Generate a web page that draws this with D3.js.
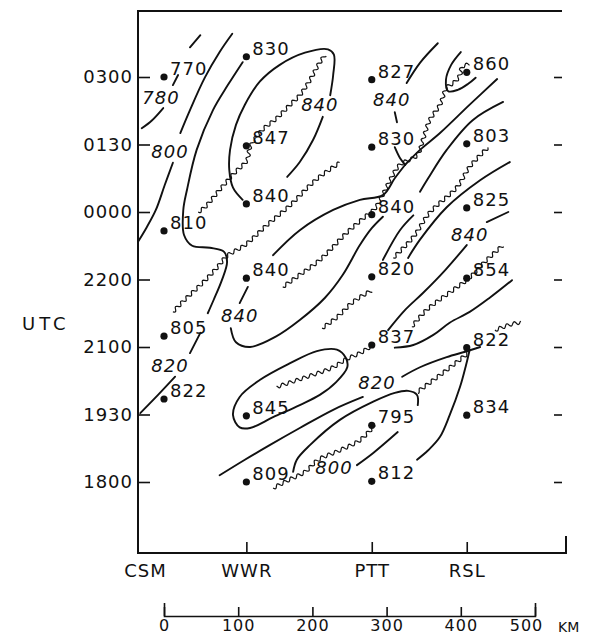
<!DOCTYPE html>
<html>
<head>
<meta charset="utf-8">
<script src="https://cdn.jsdelivr.net/npm/d3@7"></script>
<style>
  body { margin: 0; background: #fff; }
  text { font-family: "DejaVu Sans", sans-serif; fill: #111; }
</style>
</head>
<body>
<svg id="chart" width="593" height="638"></svg>
<script>
// sounding times, drawn at equal spacing (row index 0..6)
const times = ['1800', '1930', '2100', '2200', '0000', '0130', '0300'];
const stationNames = ['CSM', 'WWR', 'PTT', 'RSL'];
const stationKm = [0, 111, 280, 408];
const scaleKm = [0, 100, 200, 300, 400, 500];

// observations per station: [row (launch time), value]
const csmObs = [[6.00, 770], [3.72, 810], [2.16, 805], [1.23, 822]];
const wwrObs = [[6.30, 830], [4.98, 847], [4.12, 840], [3.02, 840], [0.98, 845], [0.00, 809]];
const pttObs = [[5.96, 827], [4.96, 830], [3.96, 840], [3.04, 820], [2.03, 837], [0.84, 795], [0.01, 812]];
const rslObs = [[6.07, 860], [5.01, 803], [4.06, 825], [3.02, 854], [1.99, 822], [0.99, 834]];

// analysed isolines, [km, row]
const c770a = [[12, 5.88], [19, 6.03]];
const c770b = [[35, 6.44], [49, 6.62]];
const c780 = [[-30, 5.24], [-16, 5.36], [-1, 5.54]];
const c800a = [[22, 5.17], [35, 5.51], [55, 5.99], [75, 6.37], [92, 6.64]];
const c800b = [[12, 4.73], [1, 4.40], [-11, 4.03], [-24, 3.76], [-35, 3.56]];
const c820a = [[106, 6.22], [86, 5.88], [66, 5.51], [44, 4.92], [31, 4.33], [26, 4.03], [27, 3.66], [38, 3.50], [62, 3.47], [81, 3.41], [85, 3.26], [78, 2.99], [67, 2.70], [59, 2.50]];
const c820b = [[49, 2.21], [35, 1.91]];
const c820c = [[15, 1.56], [-8, 1.29], [-32, 1.02]];
const c840a = [[106, 4.18], [93, 4.36], [88, 4.62], [89, 4.92], [97, 5.29], [109, 5.59], [129, 5.93], [156, 6.18], [190, 6.36], [221, 6.41], [229, 6.33], [228, 6.03], [224, 5.73]];
const c840b = [[214, 5.41], [201, 5.07], [183, 4.74], [166, 4.52]];
const c840c = [[327, 5.91], [345, 6.21], [369, 6.50]];
const c840d = [[311, 5.48], [314, 5.33]];
const c840e = [[311, 4.96], [318, 4.80], [325, 4.70]];
const c840f = [[147, 3.36], [183, 3.73], [228, 4.03], [264, 4.18], [295, 4.25], [311, 4.50], [325, 4.70]];
const c840g = [[295, 3.93], [280, 3.76], [264, 3.51], [241, 3.07], [217, 2.73], [183, 2.40], [150, 2.15], [116, 2.00], [97, 2.07], [90, 2.28]];
const c840h = [[102, 2.65], [113, 2.89]];
const c860 = [[400, 6.37], [387, 6.18], [380, 5.96], [383, 5.79], [396, 5.81], [410, 5.90], [420, 5.99]];
const cRidge1 = [[325, 4.70], [345, 4.92], [372, 5.17], [412, 5.59], [449, 5.97]];
const cRidge2a = [[457, 5.63], [416, 5.36], [381, 4.92], [356, 4.50], [345, 4.30]];
const cRidge2b = [[336, 3.95], [318, 3.73], [295, 3.29]];
const cRidge3 = [[329, 3.32], [345, 3.59], [381, 4.07], [426, 4.47], [466, 4.74]];
const c840i = [[435, 3.85], [464, 4.00]];
const c840j = [[302, 2.25], [325, 2.55], [349, 2.80], [379, 3.14], [408, 3.51]];
const c837 = [[311, 1.99], [336, 2.03], [363, 2.18], [385, 2.36], [412, 2.52], [439, 2.73], [469, 2.99]];
const c845 = [[93, 0.99], [102, 1.26], [129, 1.51], [170, 1.76], [206, 1.94], [233, 1.96], [245, 1.84], [247, 1.70], [232, 1.48], [210, 1.29], [183, 1.14], [147, 0.96], [116, 0.80], [102, 0.81]];
const c820d = [[426, 2.00], [406, 1.93], [381, 1.85], [345, 1.70], [321, 1.56]];
const c820e = [[268, 1.26], [228, 1.07], [183, 0.80], [143, 0.55], [109, 0.33], [75, 0.10]];
const c812 = [[412, 1.96], [407, 1.73], [399, 1.41], [385, 0.99], [372, 0.67], [356, 0.47], [341, 0.33]];
const c800c = [[342, 1.14], [341, 1.29], [329, 1.35], [311, 1.32], [282, 1.19], [237, 0.92], [197, 0.55], [179, 0.33], [174, 0.15]];
const c800d = [[260, 0.25], [282, 0.43], [315, 0.74]];

// trough lines (wavy), [km, row]
const t847 = [[46, 4.00], [55, 4.07], [75, 4.33], [96, 4.59], [112, 4.77], [116, 4.96], [132, 5.21], [152, 5.39], [170, 5.59], [183, 5.73], [197, 5.96], [208, 6.18], [217, 6.33]];
const tA = [[12, 2.52], [28, 2.70], [53, 2.96], [71, 3.17], [85, 3.35], [109, 3.51], [139, 3.81], [170, 4.10], [197, 4.40], [213, 4.55], [237, 4.73]];
const tB = [[160, 2.89], [183, 3.07], [210, 3.29], [247, 3.70], [271, 3.93], [284, 4.05], [296, 4.28], [306, 4.50], [318, 4.70], [341, 4.84], [349, 5.07], [358, 5.36], [372, 5.59], [381, 5.84], [392, 5.93], [399, 6.03], [402, 6.15], [412, 6.19]];
const tC = [[213, 2.28], [233, 2.44], [255, 2.67], [280, 2.84]];
const tD = [[309, 3.32], [336, 3.63], [358, 3.99], [395, 4.37], [412, 4.67], [437, 4.96]];
const tE = [[334, 2.30], [354, 2.55], [389, 2.84], [411, 3.02], [435, 3.29], [457, 3.51]];
const tF = [[446, 2.25], [466, 2.33], [482, 2.37]];
const tG = [[282, 2.03], [264, 1.91], [244, 1.81], [228, 1.70], [193, 1.56], [152, 1.41]];
const tH = [[412, 1.93], [381, 1.66], [358, 1.47], [341, 1.33]];
const tI = [[147, -0.09], [170, 0.04], [190, 0.15], [208, 0.33], [237, 0.47], [264, 0.62], [284, 0.84]];

// isoline labels
const labelText = ['780', '800', '840', '840', '840', '840', '820', '820', '800'];
const labelKm = [-4, 8, 210, 307, 102, 412, 287, 8, 229];
const labelRow = [5.70, 4.90, 5.59, 5.67, 2.46, 3.66, 1.48, 1.73, 0.21];

const svg = d3.select('#chart');
const frame = { left: 138, right: 562, top: 11, bottom: 553 };

const x = d3.scaleLinear().domain([0, 500]).range([164, 535]);
const y = d3.scaleLinear().domain([0, 6]).range([482, 77]);

const smooth = d3.line()
  .x(d => x(d[0]))
  .y(d => y(d[1]))
  .curve(d3.curveCatmullRom.alpha(0.5));
const smoothClosed = d3.line()
  .x(d => x(d[0]))
  .y(d => y(d[1]))
  .curve(d3.curveCatmullRomClosed.alpha(0.5));

//frame
svg.append('path')
  .attr('d', `M${frame.right},${frame.top}H${frame.left}V${frame.bottom}H566V536`)
  .attr('fill', 'none')
  .attr('stroke', '#111')
  .attr('stroke-width', 2);

//left time axis
const yAxis = svg.append('g')
  .attr('transform', `translate(${frame.left},0)`)
  .call(d3.axisLeft(y)
    .tickValues(d3.range(times.length))
    .tickFormat(i => times[i])
    .tickSize(-12)
    .tickPadding(5));
yAxis.select('.domain').remove();
yAxis.selectAll('line').attr('stroke', '#111').attr('stroke-width', 1.6);
yAxis.selectAll('text')
  .attr('font-size', 18)
  .attr('letter-spacing', 1)
  .attr('fill', '#111')
  .style('font-family', '"DejaVu Sans", sans-serif');

//right ticks only
const yRight = svg.append('g')
  .attr('transform', `translate(${frame.right},0)`)
  .call(d3.axisRight(y).tickValues(d3.range(times.length)).tickFormat('').tickSize(-8));
yRight.select('.domain').remove();
yRight.selectAll('line').attr('stroke', '#111').attr('stroke-width', 1.6);

svg.append('text')
  .attr('x', 22)
  .attr('y', 330)
  .attr('font-size', 18)
  .attr('letter-spacing', 4)
  .text('UTC');

//station axis
const sAxis = svg.append('g')
  .attr('transform', `translate(0,${frame.bottom})`)
  .call(d3.axisBottom(x)
    .tickValues(stationKm)
    .tickFormat((d, i) => stationNames[i])
    .tickSize(-11)
    .tickPadding(11));
sAxis.select('.domain').remove();
sAxis.selectAll('line').attr('stroke', '#111').attr('stroke-width', 1.6);
sAxis.selectAll('.tick').filter((d, i) => i === 0).select('line').remove();
sAxis.selectAll('text')
  .attr('font-size', 18)
  .attr('letter-spacing', 1)
  .attr('fill', '#111')
  .attr('dx', (d, i) => i === 0 ? -19 : 0)
  .style('font-family', '"DejaVu Sans", sans-serif');

//distance scale bar
const kmAxis = svg.append('g')
  .attr('transform', 'translate(0,616)')
  .call(d3.axisBottom(x)
    .tickValues(scaleKm)
    .tickSizeInner(-9)
    .tickSizeOuter(-13)
    .tickPadding(4));
kmAxis.selectAll('path, line').attr('stroke', '#111').attr('stroke-width', 1.6);
kmAxis.selectAll('text')
  .attr('font-size', 16)
  .attr('letter-spacing', 1)
  .attr('fill', '#111')
  .attr('dx', d => d === 500 ? -9 : 0)
  .style('font-family', '"DejaVu Sans", sans-serif');
svg.append('text')
  .attr('x', x(500) + 23)
  .attr('y', 632)
  .attr('font-size', 14)
  .text('KM');

//solid isolines
const isolines = [c770a, c770b, c780, c800a, c800b, c820a, c820b, c820c, c840a, c840b, c840c, c840d,
  c840e, c840f, c840g, c840h, c860, cRidge1, cRidge2a, cRidge2b, cRidge3, c840i, c840j, c837,
  c820d, c820e, c812, c800c, c800d];
const lines = svg.append('g')
  .attr('fill', 'none')
  .attr('stroke', '#111')
  .attr('stroke-width', 1.9)
  .attr('stroke-linecap', 'round');
lines.selectAll('path.iso')
  .data(isolines)
  .join('path')
  .attr('class', 'iso')
  .attr('d', smooth);
lines.append('path').attr('d', smoothClosed(c845));

//wavy trough lines
function wavy(pts, amp, wl) {
  const tmp = svg.append('path').attr('d', smooth(pts));
  const node = tmp.node();
  const len = node.getTotalLength();
  const out = [];
  for (let s = 0; s <= len; s += 0.8) {
    const a = node.getPointAtLength(s);
    const b = node.getPointAtLength(Math.min(len, s + 0.5));
    const c = node.getPointAtLength(Math.max(0, s - 0.5));
    let dx = b.x - c.x, dy = b.y - c.y;
    const n = Math.hypot(dx, dy) || 1;
    dx /= n; dy /= n;
    const off = amp * Math.sin((2 * Math.PI * s) / wl);
    out.push([a.x - dy * off, a.y + dx * off]);
  }
  tmp.remove();
  return d3.line()(out);
}
const troughs = [t847, tA, tB, tC, tD, tE, tF, tG, tH, tI];
svg.append('g')
  .attr('fill', 'none')
  .attr('stroke', '#111')
  .attr('stroke-width', 1.2)
  .selectAll('path')
  .data(troughs)
  .join('path')
  .attr('d', d => wavy(d, 1.8, 7.5));

//isoline labels
svg.append('g')
  .selectAll('text')
  .data(labelText)
  .join('text')
  .attr('x', (d, i) => x(labelKm[i]))
  .attr('y', (d, i) => y(labelRow[i]))
  .attr('dy', '0.36em')
  .attr('text-anchor', 'middle')
  .attr('font-size', 18)
  .attr('font-style', 'italic')
  .attr('letter-spacing', 1)
  .text(d => d);

//station observations
const obs = [csmObs, wwrObs, pttObs, rslObs].flatMap((list, s) =>
  list.map(o => ({ km: stationKm[s], row: o[0], value: o[1] })));

const pts = svg.append('g');
pts.selectAll('circle')
  .data(obs)
  .join('circle')
  .attr('cx', d => x(d.km))
  .attr('cy', d => y(d.row))
  .attr('r', 3.6)
  .attr('fill', '#111');
pts.selectAll('text')
  .data(obs)
  .join('text')
  .attr('x', d => x(d.km) + 6)
  .attr('y', d => y(d.row) - 2)
  .attr('font-size', 18)
  .attr('letter-spacing', 1)
  .text(d => d.value);
</script>
</body>
</html>
